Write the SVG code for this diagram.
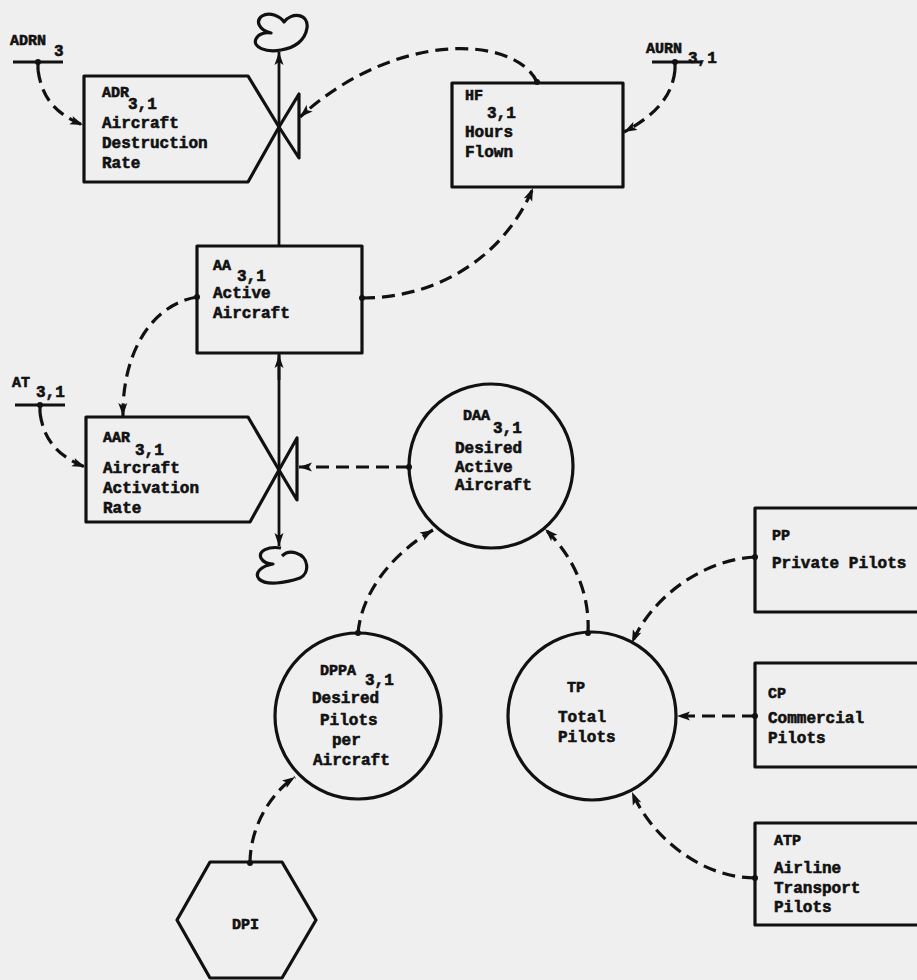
<svg xmlns="http://www.w3.org/2000/svg" width="917" height="980" viewBox="0 0 917 980">
<style>
.bg{fill:#efefef}
.sh{fill:none;stroke:#111;stroke-width:3.2;stroke-linejoin:round}
.fl{fill:none;stroke:#111;stroke-width:2.8}
.ds{fill:none;stroke:#111;stroke-width:3.2;stroke-dasharray:13 7}
.dot{fill:#111}
text{font-family:"Liberation Mono","DejaVu Sans Mono",monospace;font-weight:bold;fill:#111;stroke:#111;stroke-width:0.6;font-size:16px}
.lb{font-size:15px}
</style>
<defs>
<marker id="ah" markerUnits="userSpaceOnUse" markerWidth="14" markerHeight="10" refX="13" refY="5" orient="auto">
<path d="M0,0.5 L13,5 L0,9.5 L3,5 Z" fill="#111"/>
</marker>
</defs>
<rect class="bg" x="0" y="0" width="917" height="980"/>

<g id="clouds">
<path class="sh" d="M281,50 C266,53 252,47 256,39 C258,34 265,32 271,33 C259,30 255,21 262,16 C270,11 281,17 284,22 C291,12 309,13 307,28 C305,41 294,48 281,50 Z"/>
<path class="sh" d="M281,548 C268,546 258,551 261,558 C263,562 268,564 273,564 C261,566 254,573 259,579 C266,586 285,583 300,578 C310,573 309,557 296,553 C290,551 285,553 282,556"/>
</g>

<g id="ADRN3">
<text class="lb" x="10" y="45">ADRN</text><text x="54" y="56">3</text>
<line class="sh" x1="13" y1="62" x2="63" y2="62"/>
</g>
<g id="AURN31">
<text class="lb" x="646" y="53">AURN</text><text x="688" y="63">3,1</text>
<line class="sh" x1="652" y1="62" x2="702" y2="62"/>
</g>
<g id="AT31">
<text class="lb" x="12" y="387">AT</text><text x="36" y="397">3,1</text>
<line class="sh" x1="15" y1="405" x2="65" y2="405"/>
</g>

<g id="ADR">
<path class="sh" d="M248,76 L84,76 L84,182 L248,182 L279,127 Z"/>
<path class="sh" d="M279,127 L299,94 L299,158 Z"/>
<text class="lb" x="102" y="97">ADR</text><text x="128" y="109">3,1</text>
<text x="102" y="128">Aircraft</text>
<text x="102" y="148">Destruction</text>
<text x="102" y="168">Rate</text>
</g>

<g id="HF">
<rect class="sh" x="452" y="83" width="171" height="104"/>
<text class="lb" x="465" y="100">HF</text><text x="487" y="118">3,1</text>
<text x="465" y="137">Hours</text>
<text x="465" y="157">Flown</text>
</g>

<g id="AA">
<rect class="sh" x="197" y="246" width="165" height="107"/>
<text class="lb" x="213" y="270">AA</text><text x="237" y="281">3,1</text>
<text x="213" y="298">Active</text>
<text x="213" y="318">Aircraft</text>
</g>

<g id="AAR">
<path class="sh" d="M248,417 L86,417 L86,522 L250,522 L279,470 Z"/>
<path class="sh" d="M279,470 L297,438 L297,500 Z"/>
<text class="lb" x="103" y="442">AAR</text><text x="135" y="455">3,1</text>
<text x="103" y="473">Aircraft</text>
<text x="103" y="493">Activation</text>
<text x="103" y="513">Rate</text>
</g>

<g id="DAA">
<circle class="sh" cx="491" cy="466" r="82"/>
<text class="lb" x="463" y="420">DAA</text><text x="493" y="433">3,1</text>
<text x="455" y="453">Desired</text>
<text x="455" y="472">Active</text>
<text x="455" y="490">Aircraft</text>
</g>

<g id="DPPA">
<circle class="sh" cx="358" cy="716" r="83"/>
<text class="lb" x="320" y="675">DPPA</text><text x="365" y="685">3,1</text>
<text x="312" y="703">Desired</text>
<text x="320" y="725">Pilots</text>
<text x="332" y="745">per</text>
<text x="313" y="765">Aircraft</text>
</g>

<g id="TP">
<circle class="sh" cx="592" cy="716" r="84"/>
<text class="lb" x="567" y="692">TP</text>
<text x="558" y="722">Total</text>
<text x="558" y="742">Pilots</text>
</g>

<g id="PP">
<rect class="sh" x="755" y="508" width="180" height="104"/>
<text class="lb" x="772" y="540">PP</text>
<text x="772" y="568">Private Pilots</text>
</g>

<g id="CP">
<rect class="sh" x="755" y="663" width="180" height="104"/>
<text class="lb" x="768" y="698">CP</text>
<text x="768" y="723">Commercial</text>
<text x="768" y="743">Pilots</text>
</g>

<g id="ATP">
<rect class="sh" x="755" y="823" width="180" height="102"/>
<text class="lb" x="774" y="845">ATP</text>
<text x="774" y="873">Airline</text>
<text x="774" y="893">Transport</text>
<text x="774" y="912">Pilots</text>
</g>

<g id="DPI">
<path class="sh" d="M210,862 L282,862 L316,920 L282,978 L210,978 L177,920 Z"/>
<text class="lb" x="232" y="929">DPI</text>
</g>

<g id="connectors">
<line class="fl" x1="279" y1="246" x2="279" y2="52" marker-end="url(#ah)"/>
<line class="fl" x1="279" y1="354" x2="279" y2="546" marker-end="url(#ah)"/>
<line class="fl" x1="279" y1="380" x2="279" y2="355" marker-end="url(#ah)"/>
<line class="sh" x1="38" y1="62" x2="38" y2="70"/>
<line class="sh" x1="675" y1="62" x2="675" y2="70"/>
<line class="sh" x1="40" y1="405" x2="40" y2="413"/>
<path class="ds" d="M38,70 C42,100 58,115 83,125" marker-end="url(#ah)"/>
<path class="ds" d="M40,413 C44,442 60,457 85,467" marker-end="url(#ah)"/>
<path class="ds" d="M537,82 C515,35 395,30 300,117" marker-end="url(#ah)"/>
<path class="ds" d="M675,70 C672,100 650,118 624,132" marker-end="url(#ah)"/>
<path class="ds" d="M362,298 C440,298 505,255 533,188" marker-end="url(#ah)"/>
<path class="ds" d="M197,297 C150,305 122,355 123,416" marker-end="url(#ah)"/>
<path class="ds" d="M409,467 L299,467" marker-end="url(#ah)"/>
<path class="ds" d="M358,633 C362,590 395,552 433,530" marker-end="url(#ah)"/>
<path class="ds" d="M588,633 C590,595 575,558 545,529" marker-end="url(#ah)"/>
<path class="ds" d="M755,557 C700,560 650,600 632,643" marker-end="url(#ah)"/>
<path class="ds" d="M755,716 L677,716" marker-end="url(#ah)"/>
<path class="ds" d="M755,878 C700,878 650,835 632,792" marker-end="url(#ah)"/>
<path class="ds" d="M250,863 C250,830 268,795 295,777" marker-end="url(#ah)"/>
<circle class="dot" cx="537" cy="82" r="3"/>
<circle class="dot" cx="362" cy="298" r="3"/>
<circle class="dot" cx="197" cy="297" r="3"/>
<circle class="dot" cx="409" cy="467" r="3"/>
<circle class="dot" cx="358" cy="633" r="3"/>
<circle class="dot" cx="588" cy="633" r="3"/>
<circle class="dot" cx="755" cy="557" r="3"/>
<circle class="dot" cx="755" cy="716" r="3"/>
<circle class="dot" cx="755" cy="878" r="3"/>
<circle class="dot" cx="250" cy="863" r="3"/>
<circle class="dot" cx="38" cy="62" r="3"/>
<circle class="dot" cx="675" cy="62" r="3"/>
<circle class="dot" cx="40" cy="405" r="3"/>
</g>
</svg>
